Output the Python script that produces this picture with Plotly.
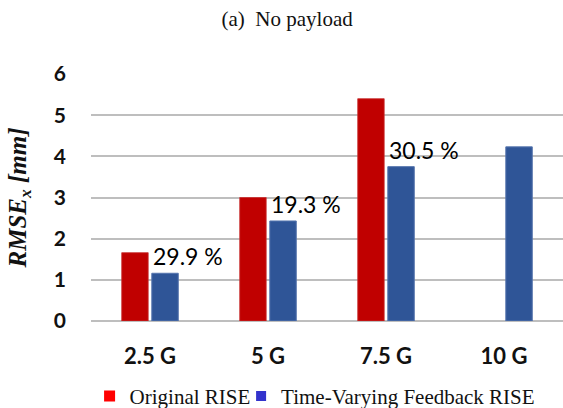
import plotly.graph_objects as go

categories = ["2.5 G", "5 G", "7.5 G", "10 G"]
original_rise = [1.66, 3.0, 5.40, None]
tv_feedback_rise = [1.16, 2.43, 3.75, 4.23]
improvement_labels = ["29.9 %", "19.3 %", "30.5 %", None]
y_ticks = [0, 1, 2, 3, 4, 5, 6]

RED = "#C00000"
BLUE = "#2F5597"

fig = go.Figure()
fig.add_trace(go.Bar(x=categories, y=original_rise, name="Original RISE",
                     marker=dict(color=RED, line=dict(color="#C83030", width=0.8)),
                     showlegend=False))
fig.add_trace(go.Bar(x=categories, y=tv_feedback_rise, name="Time-Varying Feedback RISE",
                     marker=dict(color=BLUE, line=dict(color="#5676AE", width=1)),
                     showlegend=False))
# legend entries (legend swatches use brighter colours in the reference)
fig.add_trace(go.Scatter(x=[categories[0]], y=[None], mode="markers", name="Original RISE",
                         marker=dict(symbol="square", size=11, color="#FF0000"),
                         legend="legend"))
fig.add_trace(go.Scatter(x=[categories[0]], y=[None], mode="markers",
                         name="Time-Varying Feedback RISE",
                         marker=dict(symbol="square", size=10, color="#3333CC"),
                         legend="legend2"))

for cat, val, lab in zip(categories, tv_feedback_rise, improvement_labels):
    if lab:
        fig.add_annotation(x=cat, y=val, text=lab, showarrow=False,
                           xanchor="left", yanchor="bottom", xshift=1, yshift=1,
                           font=dict(family="Lato", size=23, color="#000000"))

legend_style = dict(orientation="h", xanchor="left", y=-0.305, yanchor="middle",
                    font=dict(family="Liberation Serif", size=21, color="#111111"),
                    itemwidth=30, bgcolor="rgba(0,0,0,0)")

fig.update_layout(
    width=563, height=408,
    margin=dict(l=91, r=0, t=74, b=87, autoexpand=False),
    paper_bgcolor="white", plot_bgcolor="white",
    barmode="group", bargap=0.49, bargroupgap=0.12,
    title=dict(text="(a)  No payload", xref="container", yref="container",
               x=0.51, y=0.955, xanchor="center", yanchor="middle",
               font=dict(family="Liberation Serif", size=21, color="#111111")),
    legend=dict(x=-0.003, **legend_style),
    legend2=dict(x=0.318, **legend_style),
    showlegend=True,
)
fig.update_xaxes(
    showgrid=False, showline=False, zeroline=False, ticks="",
    tickfont=dict(family="Lato", size=22, color="#111111", weight="bold"),
    ticklabelstandoff=20,
)
fig.update_yaxes(
    range=[0, 6], tickvals=y_ticks, showgrid=True, gridcolor="#BEBEBE", gridwidth=1.5,
    zeroline=True, zerolinecolor="#BEBEBE", zerolinewidth=1.5, showline=False, ticks="",
    tickfont=dict(family="Lato", size=21, color="#111111", weight="bold"),
    ticklabelstandoff=24,
    title=dict(text="RMSE<sub>x</sub> [mm]", standoff=20,
               font=dict(family="Liberation Serif", size=25, color="#111111",
                         weight="bold", style="italic")),
)

fig.write_html("out.html", config={"displayModeBar": False},
               post_script="document.body.style.margin='0';document.body.style.overflow='hidden';")
